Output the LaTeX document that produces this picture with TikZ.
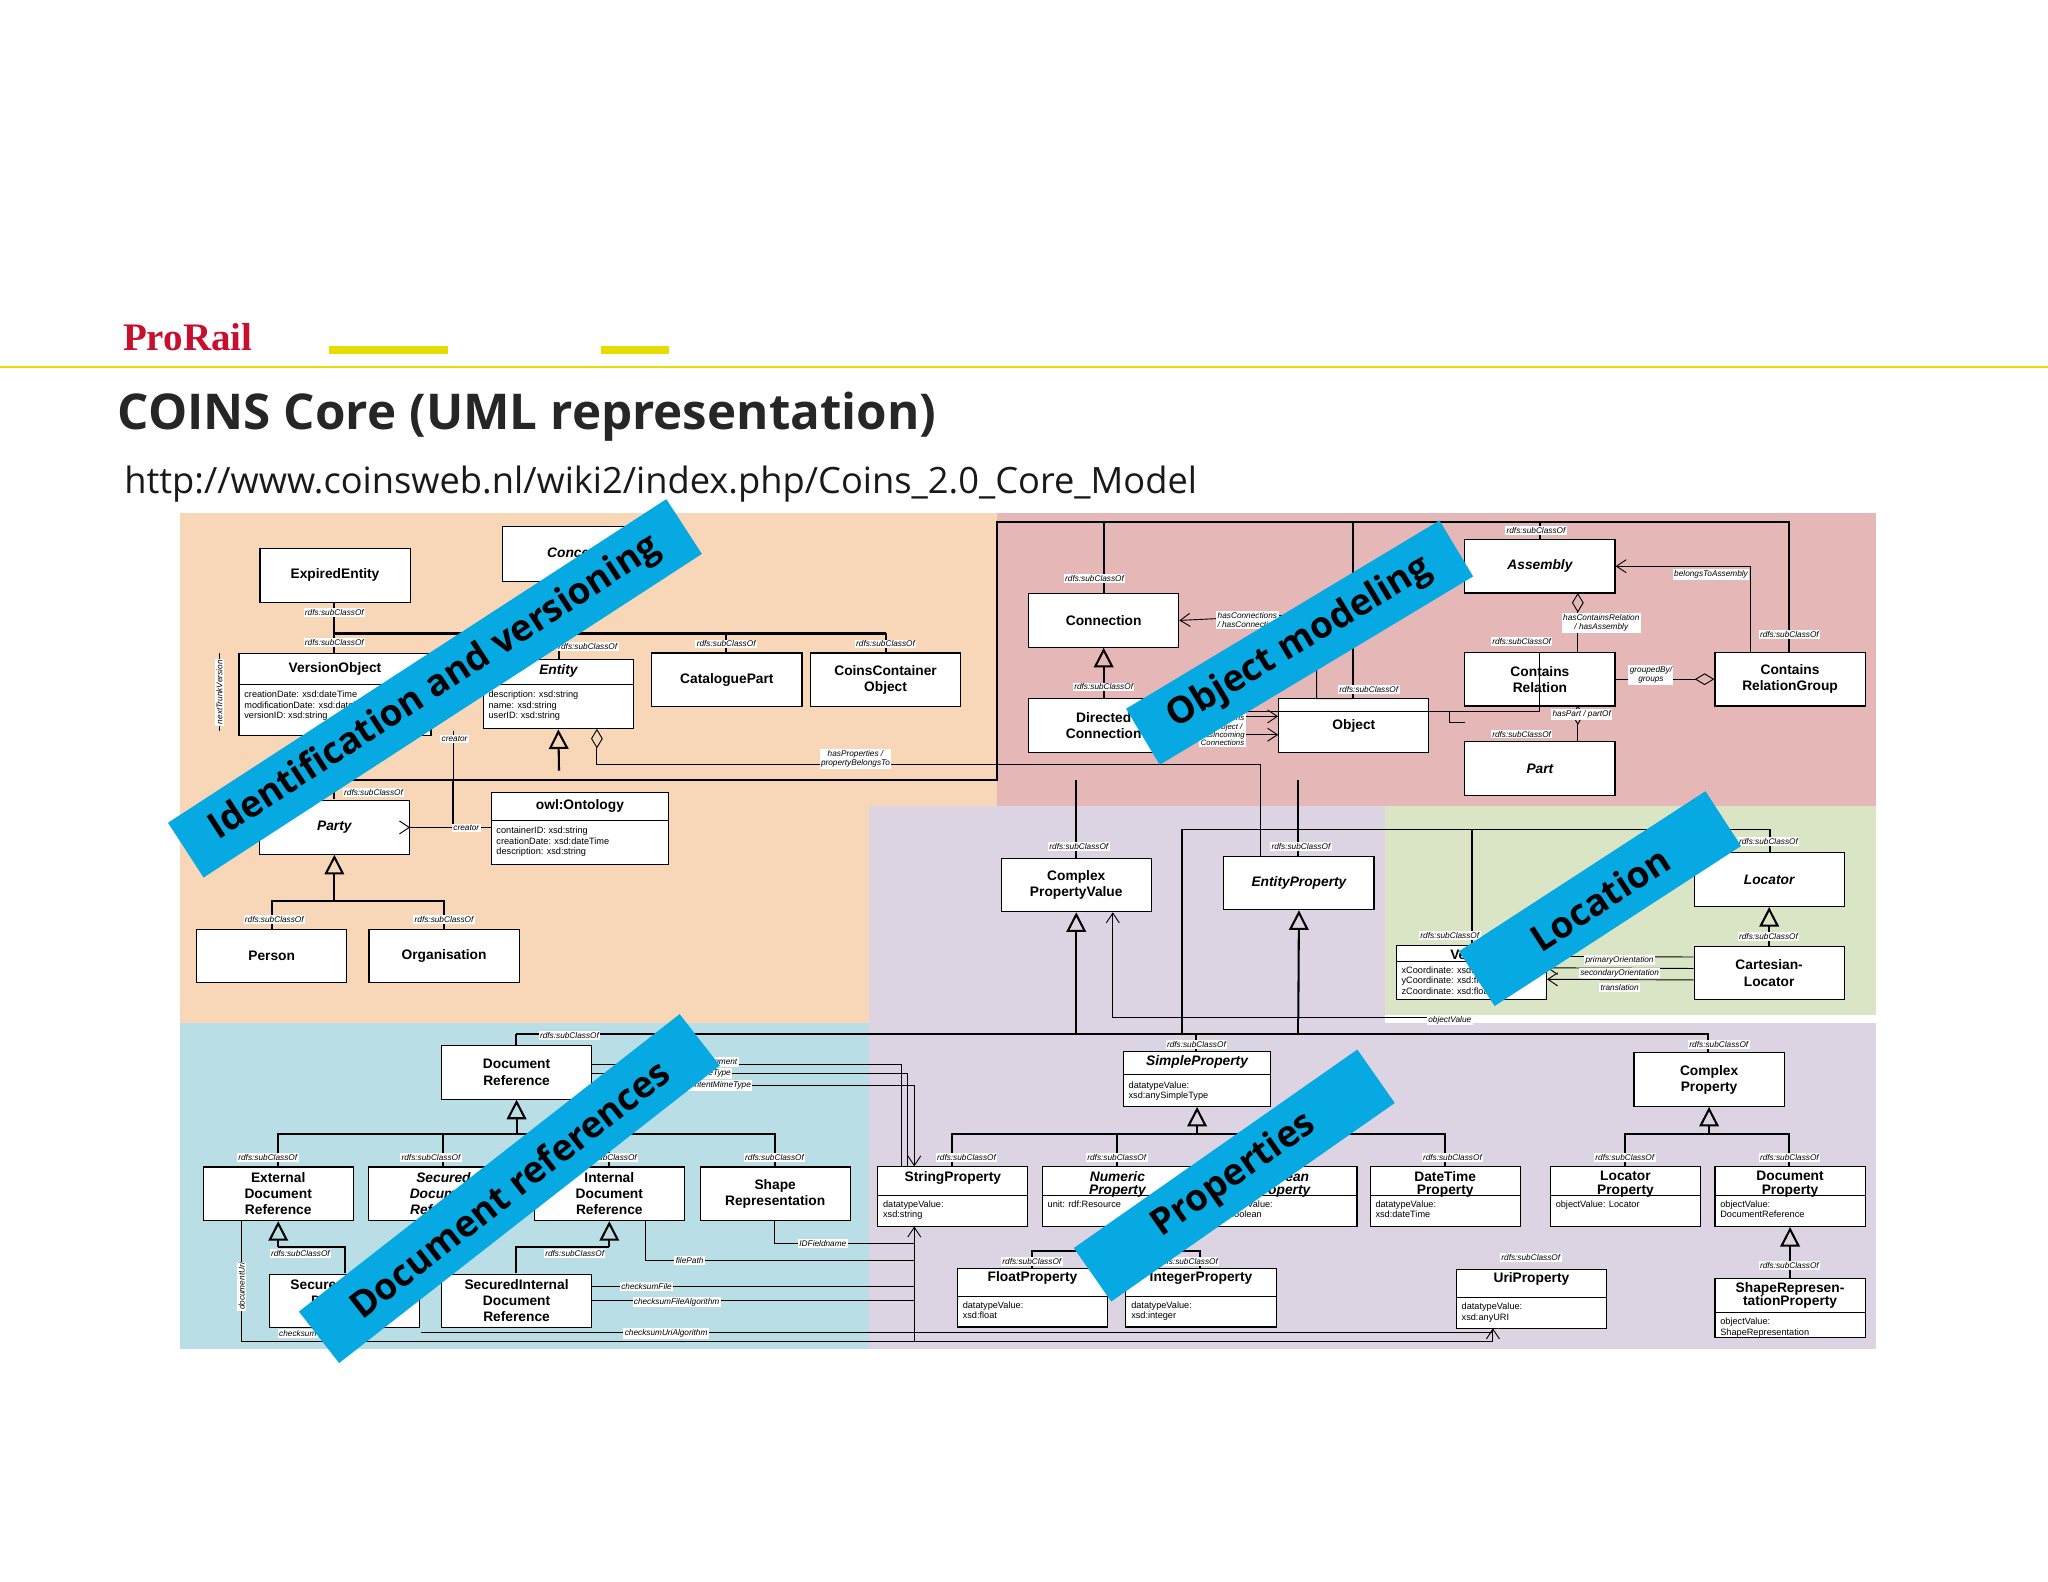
\documentclass[tikz,border=0pt]{standalone}
\usepackage{fontspec}
\setmainfont{Liberation Sans}
\newfontfamily\titlefont{Open Sans}
\newfontfamily\logofont{Liberation Serif}
\usetikzlibrary{arrows.meta, positioning}
\definecolor{orangebg}{HTML}{F8D6B8}
\definecolor{redbg}{HTML}{E5B7B6}
\definecolor{purplebg}{HTML}{DDD4E3}
\definecolor{greenbg}{HTML}{DAE5C6}
\definecolor{bluebg}{HTML}{B9DEE6}
\definecolor{bannerblue}{HTML}{06A9E2}
\definecolor{prorailred}{HTML}{C8102E}
\definecolor{prorailyellow}{HTML}{E6DC00}
\tikzset{
  cls/.style={draw, fill=white, line width=0.5pt, inner sep=1pt, align=center,
    minimum width=2.3cm, minimum height=0.82cm, font=\fontsize{6}{7}\selectfont\bfseries},
  attr/.style={anchor=north west, inner sep=1pt, align=left, font=\fontsize{4}{4.6}\selectfont},
  lbl/.style={fill=white, inner sep=0.6pt, font=\fontsize{3.6}{4}\selectfont\itshape},
  gen/.style={line width=0.9pt, -{Triangle[open, length=0.3cm, width=0.3cm]}},
  bus/.style={line width=0.9pt},
  assoc/.style={line width=0.4pt, -{Straight Barb[length=0.15cm, width=0.2cm]}},
  agg/.style={line width=0.4pt, -{Diamond[open, length=0.3cm, width=0.18cm]}},
  banner/.style={fill=bannerblue, text=black, minimum height=1cm, inner sep=0pt,
    font=\titlefont\fontsize{16}{16}\selectfont\bfseries}
}
\begin{document}
\begin{tikzpicture}[x=0.02cm, y=-0.02cm]
  \useasboundingbox (0,0) rectangle (1568,1211.2);
  % header
  \node[anchor=west, text=prorailred, font=\logofont\fontsize{17}{17}\selectfont\bfseries] (logo) at (88,258) {ProRail};
  \draw[prorailyellow, line width=0.8pt] (0,281) -- (1568,281);
  \fill[prorailyellow] (252,265) rectangle (343,271);
  \fill[prorailyellow] (460,265) rectangle (512,271);
  \node[anchor=west, font=\titlefont\fontsize{21.5}{21.5}\selectfont\bfseries, text=black!85] (title) at (84,319) {COINS Core (UML representation)};
  \node[anchor=west, font=\titlefont\fontsize{15.8}{15.8}\selectfont, text=black!90] (url) at (89,371) {http://www.coinsweb.nl/wiki2/index.php/Coins\_2.0\_Core\_Model};
  % coloured regions
  \fill[orangebg] (138,393) rectangle (763,617);
  \fill[orangebg] (138,617) rectangle (665,783);
  \fill[redbg] (763,393) rectangle (1436,617);
  \fill[purplebg] (665,617) rectangle (1060,783);
  \fill[purplebg] (665,783) rectangle (1436,1033);
  \fill[greenbg] (1060,617) rectangle (1436,777);
  \fill[bluebg] (138,783) rectangle (665,1033);

  % buses behind the boxes
  \draw[bus] (256,485) -- (678,485);
  \draw[bus] (256,461) -- (256,500);
  \draw[bus] (428,485) -- (428,505);
  \draw[bus] (556,485) -- (556,500);
  \draw[bus] (678,485) -- (678,500);
  \draw[bus] (256,612) |- (428,597) -- (763,597) -- (763,400) -- (1370,400) -- (1370,500);
  \draw[bus] (845,400) -- (845,455);
  \draw[bus] (1036,400) -- (1036,535);
  \draw[bus] (1179,400) -- (1179,413);
  \draw[bus] (347,597) -- (347,633);
  \draw[bus] (824,597) -- (824,657);
  \draw[bus] (994,597) -- (994,655);
  \draw[line width=0.6pt] (905,792) -- (905,635) -- (1355,635) -- (1355,653);
  \draw[line width=0.6pt] (1127,635) -- (1127,724);
  \draw[bus] (395,792) -- (1308,792) -- (1308,806);
  \draw[bus] (395,800) -- (395,792);
  \draw[bus] (916,792) -- (916,805);
  \draw[bus] (208,712) |- (340,690) -- (340,712);
  \draw[bus] (213,893) |- (593,868) -- (593,893);
  \draw[bus] (339,868) -- (339,893);
  \draw[bus] (466,868) -- (466,893);
  \draw[bus] (729,893) |- (1106,868) -- (1106,893);
  \draw[bus] (855,868) -- (855,893);
  \draw[bus] (981,868) -- (981,893);
  \draw[bus] (790,972) |- (919,958) -- (919,972);
  \draw[bus] (1244,893) |- (1370,868) -- (1370,893);
  \draw[bus] (264,975) -- (264,955) -- (213,955);
  \draw[bus] (395,975) |- (466,955);

  % classes: identification and versioning
  \node[cls] (expired) at (256.5,440.5) {ExpiredEntity};
  \node[cls, minimum width=2.2cm, minimum height=0.84cm, font=\fontsize{6}{7}\selectfont\bfseries\itshape] (concept) at (440,424) {Concept};
  \node[cls, minimum width=2.94cm, minimum height=1.26cm] (versionobj) at (256.5,531.5) {};
  \node[font=\fontsize{6}{7}\selectfont\bfseries, anchor=north, inner sep=1pt] (versionobjname) at (256.5,505) {VersionObject};
  \draw[line width=0.4pt] (183,524) -- (330,524);
  \node[attr] (versionobjattr) at (185,527) {creationDate: xsd:dateTime\\modificationDate: xsd:dateTime\\versionID: xsd:string};
  \node[cls, minimum height=1.06cm] (entity) at (427.5,531.5) {};
  \node[font=\fontsize{6}{7}\selectfont\bfseries\itshape, anchor=north, inner sep=1pt] (entityname) at (427.5,507) {Entity};
  \draw[line width=0.4pt] (370,524) -- (485,524);
  \node[attr] (entityattr) at (372,527) {description: xsd:string\\name: xsd:string\\userID: xsd:string};
  \node[cls] (cataloguepart) at (556.5,520.5) {CataloguePart};
  \node[cls] (container) at (678,520.5) {CoinsContainer\\Object};
  \node[cls, font=\fontsize{6}{7}\selectfont\bfseries\itshape] (party) at (256,633.5) {Party};
  \node[cls, minimum width=2.72cm, minimum height=1.1cm] (ontology) at (444,634.5) {};
  \node[font=\fontsize{6}{7}\selectfont\bfseries, anchor=north, inner sep=1pt] (ontologyname) at (444,610) {owl:Ontology};
  \draw[line width=0.4pt] (376,628) -- (512,628);
  \node[attr] (ontologyattr) at (378,631) {containerID: xsd:string\\creationDate: xsd:dateTime\\description: xsd:string};
  \node[cls] (person) at (208,732) {Person};
  \node[cls] (organisation) at (340,732) {Organisation};

  % classes: object modeling
  \node[cls] (connection) at (845,475) {Connection};
  \node[cls] (directed) at (845,555.5) {Directed\\Connection};
  \node[cls] (object) at (1036.5,555.5) {Object};
  \node[cls, font=\fontsize{6}{7}\selectfont\bfseries\itshape] (assembly) at (1179,433.5) {Assembly};
  \node[cls] (containsrel) at (1179,520) {Contains\\Relation};
  \node[cls] (containsgroup) at (1370.5,520) {Contains\\RelationGroup};
  \node[cls, font=\fontsize{6}{7}\selectfont\bfseries\itshape] (part) at (1179,588.5) {Part};

  % classes: location and properties
  \node[cls] (cpv) at (824,677.5) {Complex\\PropertyValue};
  \node[cls, font=\fontsize{6}{7}\selectfont\bfseries\itshape] (entityprop) at (994.5,676) {EntityProperty};
  \node[cls, font=\fontsize{6}{7}\selectfont\bfseries\itshape] (locator) at (1354.5,673.5) {Locator};
  \node[cls] (vector) at (1126.5,744.5) {};
  \node[font=\fontsize{6}{7}\selectfont\bfseries, anchor=north, inner sep=1pt] (vectorname) at (1126.5,725) {Vector};
  \draw[line width=0.4pt] (1069,736) -- (1184,736);
  \node[attr] (vectorattr) at (1071,738) {xCoordinate: xsd:float\\yCoordinate: xsd:float\\zCoordinate: xsd:float};
  \node[cls] (cartesian) at (1354.5,745) {Cartesian-\\Locator};
  \node[cls] (docref) at (395.5,821) {Document\\Reference};
  \node[cls, minimum width=2.26cm, minimum height=0.84cm] (simpleprop) at (916.5,826) {};
  \node[font=\fontsize{6}{7}\selectfont\bfseries\itshape, anchor=north, inner sep=1pt] (simplepropname) at (916.5,806) {SimpleProperty};
  \draw[line width=0.4pt] (860,823) -- (973,823);
  \node[attr] (simplepropattr) at (862,826) {datatypeValue:\\xsd:anySimpleType};
  \node[cls] (complexprop) at (1308.5,826.5) {Complex\\Property};

  % classes: bottom rows
  \node[cls] (extdoc) at (213,914) {External\\Document\\Reference};
  \node[cls, font=\fontsize{6}{7}\selectfont\bfseries\itshape] (secdoc) at (339.5,914) {Secured\\Document\\Reference};
  \node[cls] (intdoc) at (466.5,914) {Internal\\Document\\Reference};
  \node[cls] (shaperep) at (593.5,914) {Shape\\Representation};
  \foreach \nm/\cx/\ttl/\att/\sty in {
      stringprop/729.5/StringProperty/{datatypeValue:\\xsd:string}/,
      numericprop/855.5/{Numeric\\Property}/{unit: rdf:Resource}/\itshape,
      booleanprop/981.5/{Boolean\\Property}/{datatypeValue:\\xsd:boolean}/\itshape,
      datetimeprop/1106.5/{DateTime\\Property}/{datatypeValue:\\xsd:dateTime}/,
      locatorprop/1244.5/{Locator\\Property}/{objectValue: Locator}/,
      documentprop/1370.5/{Document\\Property}/{objectValue:\\DocumentReference}/}{
    \node[cls, minimum height=0.92cm] (\nm) at (\cx,916) {};
    \node[font=\fontsize{6}{6}\selectfont\bfseries\sty, anchor=north, inner sep=1pt, align=center] (\nm name) at (\cx,894.5) {\ttl};
    \draw[line width=0.4pt] (\cx-57.5,915) -- (\cx+57.5,915);
    \node[attr] (\nm attr) at (\cx-55.5,917) {\att};
  }
  \node[cls] (secextdoc) at (264,996) {SecuredExternal\\Document\\Reference};
  \node[cls] (secintdoc) at (395.5,996) {SecuredInternal\\Document\\Reference};
  \foreach \nm/\cx/\cy/\sep/\ttl/\att in {
      floatprop/790.5/993.5/992.5/FloatProperty/{datatypeValue:\\xsd:float},
      integerprop/919.5/993.5/992.5/IntegerProperty/{datatypeValue:\\xsd:integer},
      uriprop/1172.5/994.5/993.5/UriProperty/{datatypeValue:\\xsd:anyURI},
      shapeprop/1370.5/1001.5/1005/{ShapeRepresen-\\tationProperty}/{objectValue:\\ShapeRepresentation}}{
    \node[cls, minimum height=0.9cm] (\nm) at (\cx,\cy) {};
    \node[font=\fontsize{6}{6}\selectfont\bfseries, anchor=north, inner sep=1pt, align=center] (\nm name) at (\cx,\cy-22) {\ttl};
    \draw[line width=0.4pt] (\cx-57.5,\sep) -- (\cx+57.5,\sep);
    \node[attr] (\nm attr) at (\cx-55.5,\sep+2) {\att};
  }

  % generalisations
  \draw[gen] (428,590) -- (entity.south);
  \draw[gen] (256,690) -- (party.south);
  \draw[gen] (directed.north) -- (connection.south);
  \draw[gen] (824,780) -- (cpv.south);
  \draw[gen] (994,780) -- (entityprop.south);
  \draw[gen] (cartesian.north) -- (locator.south);
  \draw[gen] (395.5,868) -- (docref.south);
  \draw[gen] (916.5,868) -- (simpleprop.south);
  \draw[gen] (1308.5,868) -- (complexprop.south);
  \draw[gen] (213,955) -- (extdoc.south);
  \draw[gen] (466.5,955) -- (intdoc.south);
  \draw[gen] (855.5,958) -- (numericprop.south);
  \draw[gen] (shapeprop.north) -- (documentprop.south);
  \draw[bus] (824,780) -- (824,792);
  \draw[bus] (994,780) -- (994,792);

  % associations
  \draw[agg] (1208,500) -- (1208,454);
  \draw[agg] (1208,568) -- (1208,540);
  \draw[agg] (containsrel.east) -- (containsgroup.west);
  \draw[assoc] (1340,500) |- (assembly.east);
  \draw[assoc] (1036,535) -- (1008,535) -- (1008,520) -- (1008,470) -- (connection.east);
  \draw[assoc] ([yshift=-4pt]directed.east) -- ([yshift=-4pt]object.west);
  \draw[assoc] ([yshift=4pt]directed.east) -- ([yshift=4pt]object.west);
  \draw[line width=0.4pt] (903,545) -- (1110,545) -- (1110,553) |- (1122,553);
  \draw[agg] (965,655) -- (965,585) -- (457,585) -- (457,558);
  \draw[line width=0.4pt] (1179,500) |- (1110,545);
  \draw[assoc] ([yshift=-3pt]cartesian.west) -- ([yshift=-3pt]vector.east);
  \draw[assoc] ([yshift=2pt]cartesian.west) -- ([yshift=2pt]vector.east);
  \draw[assoc] ([yshift=7pt]cartesian.west) -- ([yshift=7pt]vector.east);
  \draw[assoc] (1115,779) -- (852,779) -- (cpv.south -| 852,0);
  \draw[assoc] (313,633.5) -- (party.east);
  \draw[line width=0.4pt] (376,633.5) -- (313,633.5);
  \draw[line width=0.4pt] (347,633) -- (347,560);
  \draw[line width=0.4pt] (453,815) -- (690,815) -- (690,893);
  \draw[line width=0.4pt] (453,822) -- (695,822) -- (695,893);
  \draw[assoc] (453,831) -- (700,831) -- (700,893);
  \draw[line width=0.4pt] (593,935) |- (700,952);
  \draw[line width=0.4pt] (494,935) |- (700,965);
  \draw[line width=0.4pt] (453,985) -- (700,985);
  \draw[line width=0.4pt] (453,996) -- (700,996);
  \draw[assoc] (185,935) -- (185,1027) -- (700,1027) -- (700,939);
  \draw[line width=0.4pt] (322,1020) -- (1143,1020);
  \draw[assoc] (700,1027) -- (1143,1027) -- (1143,1017);
  \draw[line width=0.4pt] (168,500) -- (168,560);

  % rdfs:subClassOf labels
  \foreach \lx/\ly in {256/469, 256/492, 450/495, 556/493, 678/493, 286/607, 210/704, 340/704,
      1176/406, 838/443, 845/526, 1048/528, 1165/491, 1370/486, 1165/562,
      826/648, 996/648, 1354/644, 1110/716, 1354/717,
      436/793, 916/800, 1316/800, 205/886, 330/886, 465/886, 593/886,
      740/886, 855/886, 1112/886, 1244/886, 1370/886,
      230/960, 440/960, 790/966, 910/966, 1172/963, 1370/969}
    \node[lbl] at (\lx,\ly) {rdfs:subClassOf};
  % association labels
  \node[lbl] at (348,566) {creator};
  \node[lbl] at (357,634) {creator};
  \node[lbl, rotate=90] at (168,530) {nextTrunkVersion};
  \node[lbl, align=center] at (655,581) {hasProperties /\\propertyBelongsTo};
  \node[lbl, align=center] at (955,475) {hasConnections\\/ hasConnection};
  \node[lbl, align=center, font=\fontsize{3.4}{3.7}\selectfont\itshape] at (936,556) {hasOutgoing\\Connections\\hasObject /\\hasIncoming\\Connections};
  \node[lbl] at (1310,440) {belongsToAssembly};
  \node[lbl, align=center] at (1226,477) {hasContainsRelation\\/ hasAssembly};
  \node[lbl, align=center] at (1264,517) {groupedBy/\\groups};
  \node[lbl] at (1211,547) {hasPart / partOf};
  \node[lbl] at (1240,735) {primaryOrientation};
  \node[lbl] at (1240,745) {secondaryOrientation};
  \node[lbl] at (1240,756) {translation};
  \node[lbl] at (1110,781) {objectValue};
  \node[lbl] at (552,813) {fragment};
  \node[lbl] at (545,822) {mimeType};
  \node[lbl] at (550,831) {contentMimeType};
  \node[lbl] at (630,952) {IDFieldname};
  \node[lbl] at (528,965) {filePath};
  \node[lbl] at (495,985) {checksumFile};
  \node[lbl] at (518,997) {checksumFileAlgorithm};
  \node[lbl] at (510,1021) {checksumUriAlgorithm};
  \node[lbl] at (228,1021) {checksum};
  \node[lbl, rotate=90] at (185,985) {documentUri};

  % banners
  \node[banner, minimum width=9.1cm, rotate=33] (identban) at (333,527) {Identification and versioning};
  \node[banner, minimum width=5.6cm, rotate=31] (objban) at (995,492) {Object modeling};
  \node[banner, minimum width=4.5cm, rotate=33] (locban) at (1225,688) {Location};
  \node[banner, minimum width=7.4cm, rotate=38] (docban) at (390,910) {Document references};
  \node[banner, minimum width=5.3cm, rotate=35] (propban) at (945,900) {Properties};
\end{tikzpicture}
\end{document}
